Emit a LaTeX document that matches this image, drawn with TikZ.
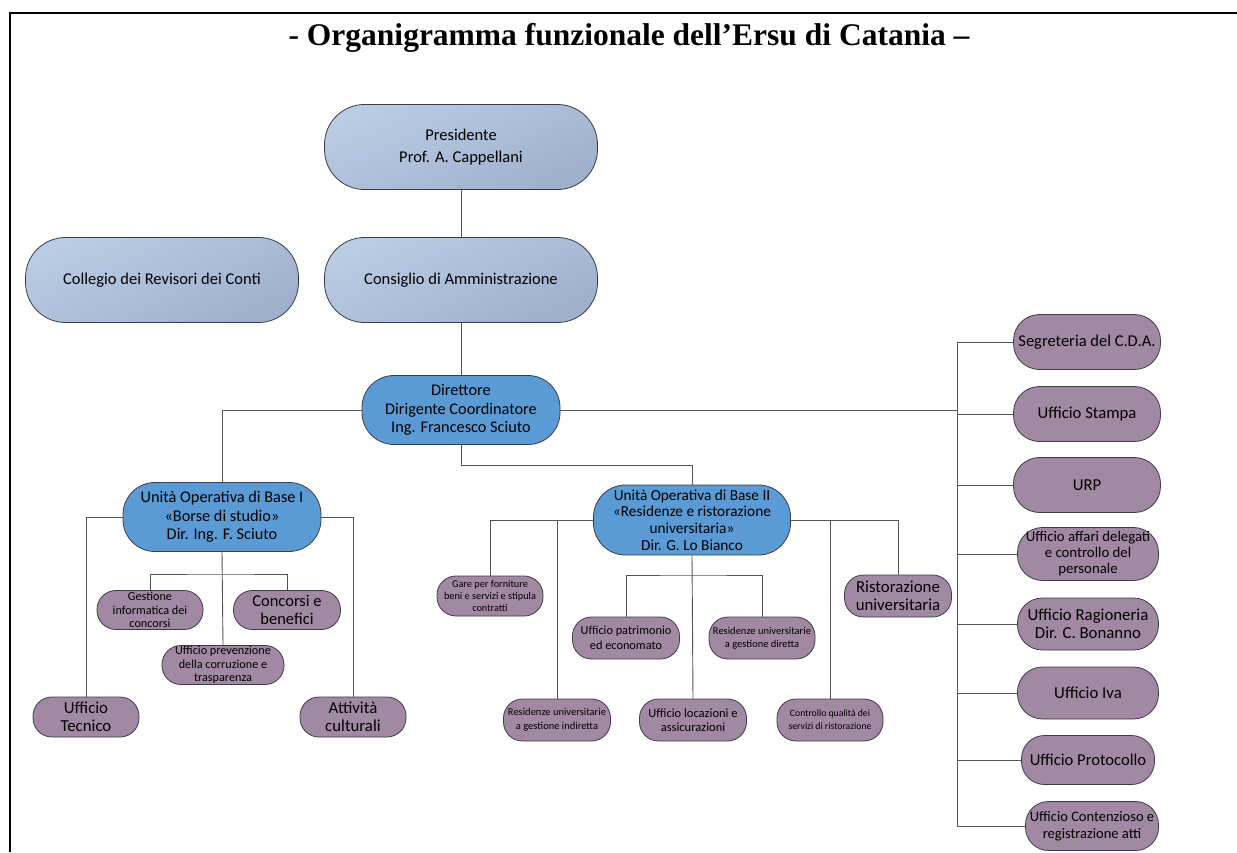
\documentclass[tikz,border=0pt]{standalone}
\usepackage{fontspec}
\setmainfont{Carlito}
\newfontfamily\titlefont{Liberation Serif}
\usetikzlibrary{calc}

\definecolor{paleblue}{RGB}{186,204,228}
\definecolor{paleblue2}{RGB}{158,176,204}
\definecolor{unitblue}{RGB}{91,155,213}
\definecolor{mauve}{RGB}{162,137,163}
\definecolor{rim}{RGB}{60,60,70}
\definecolor{wire}{RGB}{85,85,85}

\tikzset{
  org/.style={rectangle, draw=rim, line width=0.8pt, align=center, inner sep=0pt},
  topbox/.style={org, top color=paleblue, bottom color=paleblue2, shading angle=25,
    minimum width=273, minimum height=85, rounded corners=40,
    font=\fontsize{16.5}{22}\selectfont},
  unitbox/.style={org, fill=unitblue, minimum width=198, minimum height=69,
    rounded corners=32, font=\fontsize{16.3}{18.3}\selectfont},
  officebox/.style={org, fill=mauve, minimum width=106, minimum height=40,
    rounded corners=19},
  wirestyle/.style={draw=wire, line width=0.9pt}
}

\begin{document}
\begin{tikzpicture}[x=1pt,y=-1pt]
\useasboundingbox (0,0) rectangle (1237,852);
% page frame and title
\draw[line width=2.5pt] (10,852) -- (10,13) -- (1240,13);
\node (title) at (629,38) {\titlefont\bfseries\fontsize{31.5}{34}\selectfont - Organigramma funzionale dell’Ersu di Catania –};

% top levels
\node[topbox] (pres) at (461,147) {Presidente\\Prof. A. Cappellani};
\node[topbox] (coll) at (162,280) {Collegio dei Revisori dei Conti};
\node[topbox] (cons) at (461,280) {Consiglio di Amministrazione};
\node[unitbox] (dir) at (461,410) {Direttore\\Dirigente Coordinatore\\Ing. Francesco Sciuto};

% unita operativa I
\node[unitbox] (uob1) at (222,517) {Unità Operativa di Base I\\«Borse di studio»\\Dir. Ing. F. Sciuto};
\node[officebox, font=\fontsize{16.8}{18.3}\selectfont] (tecnico) at (86,717) {Ufficio\\Tecnico};
\node[officebox, font=\fontsize{16.8}{18.3}\selectfont] (attiv) at (353,717) {Attività\\culturali};
\node[officebox, minimum height=39, font=\fontsize{12.2}{13.5}\selectfont] (gest) at (150,610) {Gestione\\informatica dei\\concorsi};
\node[officebox, minimum width=107, minimum height=39, font=\fontsize{16.5}{18.3}\selectfont] (conc) at (287,610) {Concorsi e\\benefici};
\node[officebox, minimum width=122, minimum height=39, font=\fontsize{12.2}{13.5}\selectfont] (prev) at (223,665) {Ufficio prevenzione\\della corruzione e\\trasparenza};

% unita operativa II
\node[unitbox, minimum width=197, minimum height=70, font=\fontsize{15.3}{16.8}\selectfont] (uob2) at (692,520) {Unità Operativa di Base II\\«Residenze e ristorazione\\universitaria»\\Dir. G. Lo Bianco};
\node[officebox, font=\fontsize{10.3}{12.2}\selectfont] (gare) at (490,596) {Gare per forniture\\beni e servizi e stipula\\contratti};
\node[officebox, minimum width=107, minimum height=42, font=\fontsize{16.8}{18.5}\selectfont] (ristor) at (898,596) {Ristorazione\\universitaria};
\node[officebox, minimum width=107, minimum height=42, font=\fontsize{12.3}{14.5}\selectfont] (patrim) at (626,638) {Ufficio patrimonio\\ed economato};
\node[officebox, minimum height=42, font=\fontsize{10.5}{12.5}\selectfont] (resdir) at (762,638) {Residenze universitarie\\a gestione diretta};
\node[officebox, minimum width=107, minimum height=42, font=\fontsize{10.5}{14}\selectfont] (resind) at (557,720) {Residenze universitarie\\a gestione indiretta};
\node[officebox, minimum width=107, minimum height=42, font=\fontsize{12.5}{14}\selectfont] (locaz) at (693,720) {Ufficio locazioni e\\assicurazioni};
\node[officebox, minimum height=42, font=\fontsize{9.7}{12.8}\selectfont] (contr) at (830,720) {Controllo qualità dei\\servizi di ristorazione};

% staff column
\node[officebox, minimum width=147, minimum height=55, rounded corners=26, font=\fontsize{16.5}{17}\selectfont] (segr) at (1087,342) {Segreteria del C.D.A.};
\node[officebox, minimum width=147, minimum height=55, rounded corners=26, font=\fontsize{16.7}{17}\selectfont] (stampa) at (1087,414) {Ufficio Stampa};
\node[officebox, minimum width=147, minimum height=55, rounded corners=26, font=\fontsize{16.7}{17}\selectfont] (urp) at (1087,485) {URP};
\node[officebox, minimum width=141, minimum height=53, rounded corners=25, font=\fontsize{14.8}{16}\selectfont] (affari) at (1088,554) {Ufficio affari delegati\\e controllo del\\personale};
\node[officebox, minimum width=141, minimum height=52, rounded corners=25, font=\fontsize{16.8}{18}\selectfont] (ragion) at (1088,624) {Ufficio Ragioneria\\Dir. C. Bonanno};
\node[officebox, minimum width=141, minimum height=52, rounded corners=25, font=\fontsize{16.8}{18}\selectfont] (iva) at (1088,693) {Ufficio Iva};
\node[officebox, minimum width=133, minimum height=49, rounded corners=23, font=\fontsize{16.6}{18}\selectfont] (proto) at (1088,760) {Ufficio Protocollo};
\node[officebox, minimum width=133, minimum height=49, rounded corners=23, font=\fontsize{14.5}{16.7}\selectfont] (contz) at (1092,826) {Ufficio Contenzioso e\\registrazione atti};

\coordinate (busx) at (957,0);
\coordinate (fork1) at (222,574);
\coordinate (fork2) at (692,575);

% connectors
\begin{scope}[wirestyle]
\draw (pres) -- (cons);
\draw (cons) -- (dir);
\draw (dir.west) -| (uob1.north);
\draw (dir.south) -- ++(0,21) -| (uob2.north);
\draw (dir.east) -- (dir.east -| busx);
\draw (segr.west -| busx) -- (contz.west -| busx);
\foreach \n in {segr,stampa,urp,affari,ragion,iva,proto,contz}
  \draw (\n.west) -- (\n.west -| busx);
\draw (uob1.west) -| (tecnico.north);
\draw (uob1.east) -| (attiv.north);
\draw (uob1.south) -- (prev.north);
\draw (gest.north) |- (fork1) -| (conc.north);
\draw (uob2.west) -| (gare.north);
\draw (uob2.west) -| (resind.north);
\draw (uob2.east) -| (ristor.north);
\draw (uob2.east) -| (contr.north);
\draw (uob2.south) -- (locaz.north);
\draw (patrim.north) |- (fork2) -| (resdir.north);
\end{scope}
\end{tikzpicture}
\end{document}
